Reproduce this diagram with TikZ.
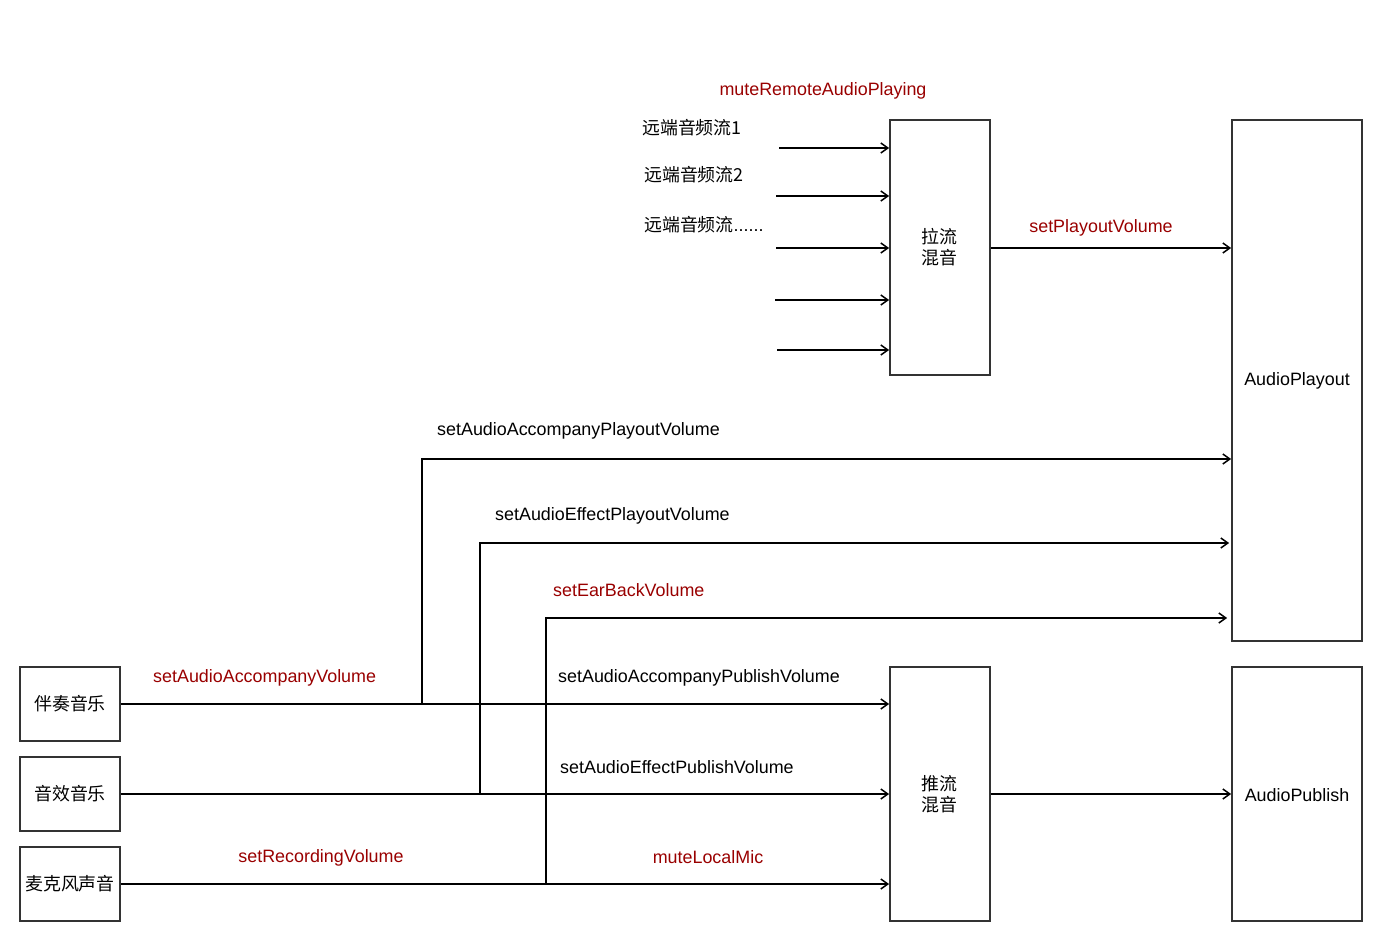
\documentclass[tikz,border=0pt]{standalone}
\usepackage{fontspec}
\setmainfont{Liberation Sans}
\newfontfamily\cjk{Noto Sans CJK SC}
\usetikzlibrary{arrows.meta}
\definecolor{lbred}{HTML}{990000}
\definecolor{boxgray}{HTML}{333333}
\begin{document}
\begin{tikzpicture}[x=1pt,y=-1pt,
  every node/.style={font=\fontsize{17.9}{21.5}\selectfont},
  blk/.style={draw=boxgray,line width=1.8pt,fill=white,inner sep=0pt},
  arr/.style={line width=1.9pt,-{Straight Barb[length=7pt,width=10pt,line width=1.5pt]}},
  redlbl/.style={text=lbred,inner sep=0pt,yshift=-1.5pt},
  blklbl/.style={text=black,inner sep=0pt,yshift=-1.5pt},
  cjklbl/.style={text=black,inner sep=0pt,yshift=1pt}]
\useasboundingbox (0,0) rectangle (1382,942);
% boxes
\node[blk,minimum width=100pt,minimum height=255pt] (pull) at (940,247.5) {};
\node[align=center,inner sep=0pt] (pulltxt) at (939,247) {\cjk 拉流\\\cjk 混音};
\node[blk,minimum width=130pt,minimum height=521pt] (playout) at (1297,380.5) {};
\node[inner sep=0pt] (playtxt) at (1297,381) {AudioPlayout};
\node[blk,minimum width=100pt,minimum height=254pt] (push) at (940,794) {};
\node[align=center,inner sep=0pt] (pushtxt) at (939,794) {\cjk 推流\\\cjk 混音};
\node[blk,minimum width=130pt,minimum height=254pt] (publish) at (1297,794) {};
\node[inner sep=0pt] (pubtxt) at (1297,795) {AudioPublish};
\node[blk,minimum width=100pt,minimum height=74pt] (acc) at (70,704) {};
\node[inner sep=0pt] at (70,704) {\cjk 伴奏音乐};
\node[blk,minimum width=100pt,minimum height=74pt] (eff) at (70,794) {};
\node[inner sep=0pt] at (70,794) {\cjk 音效音乐};
\node[blk,minimum width=100pt,minimum height=74pt] (mic) at (70,884) {};
\node[inner sep=0pt] at (70,884) {\cjk 麦克风声音};
% remote streams
\coordinate (r1) at (779,148);
\coordinate (r2) at (776,196);
\coordinate (r3) at (776,248);
\coordinate (r4) at (775,300);
\coordinate (r5) at (777,350);
\foreach \r in {r1,r2,r3,r4,r5} \draw[arr] (\r) -- (pull.west|-\r);
\node[cjklbl,anchor=west] at (642,129) {\cjk 远端音频流1};
\node[cjklbl,anchor=west] at (644,176) {\cjk 远端音频流2};
\node[cjklbl,anchor=west] at (644,226) {{\cjk 远端音频流}......};
\node[redlbl] at (823,89) {muteRemoteAudioPlaying};
% pull -> playout
\draw[arr] (pull.east|-0,248) -- (playout.west|-0,248);
\node[redlbl] at (1101,226) {setPlayoutVolume};
% local sources to push mixer
\draw[arr] (acc.east) -- (push.west|-acc.east);
\draw[arr] (eff.east) -- (push.west|-eff.east);
\draw[arr] (mic.east) -- (push.west|-mic.east);
\draw[arr] (push.east) -- (publish.west);
% branches up to playout
\coordinate (j1) at (422,704);
\coordinate (j2) at (480,794);
\coordinate (j3) at (546,884);
\draw[arr] (j1) |- (playout.west|-0,459);
\draw[arr] (j2) |- ([xshift=-2pt]playout.west|-0,543);
\draw[arr] (j3) |- ([xshift=-4pt]playout.west|-0,618);
% labels
\node[blklbl,anchor=west] at (437,429) {setAudioAccompanyPlayoutVolume};
\node[blklbl,anchor=west] at (495,514) {setAudioEffectPlayoutVolume};
\node[redlbl,anchor=west] at (553,589) {setEarBackVolume};
\node[redlbl,anchor=west] at (153,676) {setAudioAccompanyVolume};
\node[blklbl,anchor=west] at (558,676) {setAudioAccompanyPublishVolume};
\node[blklbl,anchor=west] at (560,766) {setAudioEffectPublishVolume};
\node[redlbl] at (321,856) {setRecordingVolume};
\node[redlbl] at (708,856) {muteLocalMic};
\end{tikzpicture}
\end{document}
